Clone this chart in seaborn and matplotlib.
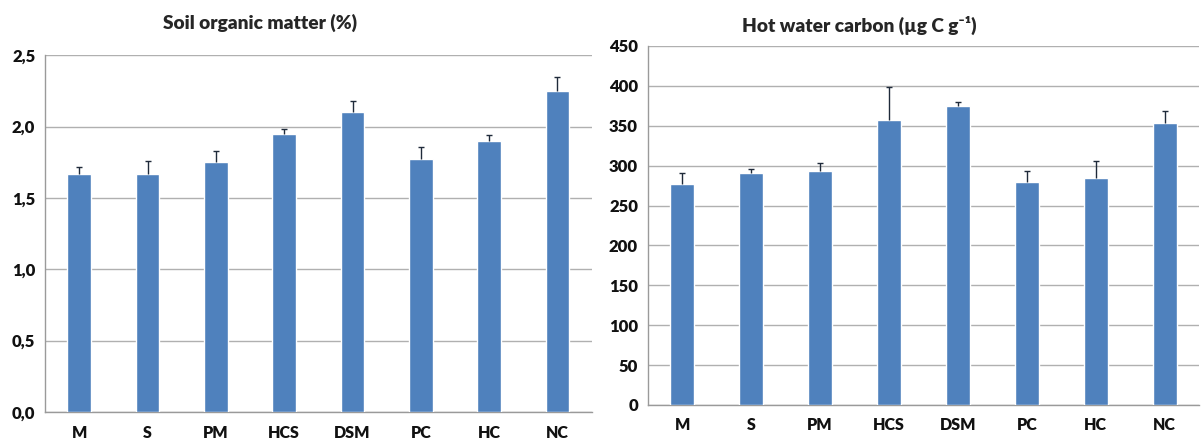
import matplotlib
matplotlib.use("Agg")
import matplotlib.pyplot as plt
import seaborn as sns
import numpy as np
import pandas as pd
from matplotlib.ticker import FuncFormatter, FixedLocator

categories = ["M", "S", "PM", "HCS", "DSM", "PC", "HC", "NC"]
som_values = [1.67, 1.67, 1.75, 1.95, 2.10, 1.77, 1.90, 2.25]
som_errors = [0.05, 0.09, 0.08, 0.03, 0.08, 0.09, 0.04, 0.10]
hwc_values = [277, 291, 293, 357, 375, 279, 284, 354]
hwc_errors = [14, 5, 10, 42, 5, 14, 22, 14]

sns.set_theme(style="white")
plt.rcParams['font.family'] = ['Lato', 'DejaVu Sans']
plt.rcParams['font.weight'] = 'heavy'

BAR = "#4F81BD"
GRID = "#b0b0b0"
SPINE = "#9a9a9a"

fig = plt.figure(figsize=(12.04, 4.46), dpi=100)
ax1 = fig.add_axes([0.0374, 0.0762, 0.454, 0.800])
ax2 = fig.add_axes([0.538, 0.092, 0.458, 0.805])

def draw(ax, vals, errs, title, ymax, step, fmt, pad, tx):
    df = pd.DataFrame({"cat": categories, "val": vals})
    sns.barplot(data=df, x="cat", y="val", ax=ax, color=BAR, saturation=1,
                width=0.35, errorbar=None, zorder=3)
    x = np.arange(len(categories))
    eb = ax.errorbar(x, vals, yerr=[np.zeros(len(errs)), errs], fmt="none",
                     ecolor="#1f2a3a", elinewidth=1.0, capsize=2.5, capthick=1.0, zorder=4)
    if len(eb[1]) >= 2:
        eb[1][0].set_visible(False)
    ax.set_ylim(0, ymax)
    ax.set_xlim(-0.5, len(categories) - 0.5)
    ax.set_yticks(np.arange(0, ymax + step / 2, step))
    ax.yaxis.set_major_formatter(FuncFormatter(fmt))
    ax.grid(axis="y", color=GRID, linewidth=1.0, zorder=0)
    ax.set_axisbelow(True)
    for s in ["top", "right"]:
        ax.spines[s].set_visible(False)
    for s in ["left", "bottom"]:
        ax.spines[s].set_color(SPINE)
        ax.spines[s].set_linewidth(1.0)
    ax.set_xlabel("")
    ax.set_ylabel("")
    ax.set_title(title, fontsize=13.8, fontweight="heavy", pad=pad, x=tx)
    ax.tick_params(axis="x", which="major", length=0, pad=9, labelsize=11.5)
    ax.xaxis.set_minor_locator(FixedLocator(np.arange(-0.5, len(categories), 1.0)))
    ax.tick_params(axis="x", which="minor", length=5, color=SPINE, width=1.0, direction="out")
    ax.tick_params(axis="y", length=4, color=SPINE, width=1.0, direction="out", pad=3, labelsize=12)
    for lab in ax.get_xticklabels() + ax.get_yticklabels():
        lab.set_fontweight("heavy")
        lab.set_color("#111111")

draw(ax1, som_values, som_errors, "Soil organic matter (%)", 2.5, 0.5,
     lambda v, p: f"{v:.1f}".replace(".", ","), 19, 0.393)
draw(ax2, hwc_values, hwc_errors, "Hot water carbon (µg C g⁻¹)", 450, 50,
     lambda v, p: f"{int(round(v))}", 10, 0.384)

fig.savefig("out.png", dpi=100)
